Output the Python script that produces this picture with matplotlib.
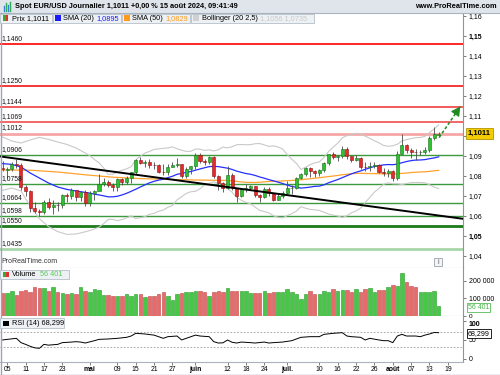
import numpy as np
import pandas as pd
import matplotlib
matplotlib.use('Agg')
import matplotlib.pyplot as plt
import matplotlib.transforms as mtrans
from matplotlib.patches import Rectangle
from matplotlib.lines import Line2D

plt.rcParams['font.family'] = ['Liberation Sans', 'DejaVu Sans']

# EUR/USD daily candles, 4 Apr 2024 -> 15 Aug 2024
opens = [1.0840, 1.0830, 1.0836, 1.0861, 1.0856, 1.0743, 1.0727, 1.0642, 1.0625, 1.0620,
         1.0672, 1.0643, 1.0656, 1.0655, 1.0703, 1.0698, 1.0728, 1.0693, 1.0719, 1.0665,
         1.0713, 1.0727, 1.0761, 1.0771, 1.0753, 1.0747, 1.0783, 1.0771, 1.0790, 1.0819,
         1.0882, 1.0866, 1.0870, 1.0857, 1.0855, 1.0822, 1.0819, 1.0847, 1.0857, 1.0858,
         1.0800, 1.0833, 1.0848, 1.0903, 1.0875, 1.0870, 1.0893, 1.0801, 1.0763, 1.0740,
         1.0806, 1.0738, 1.0702, 1.0734, 1.0739, 1.0748, 1.0703, 1.0693, 1.0733, 1.0715,
         1.0682, 1.0701, 1.0713, 1.0740, 1.0741, 1.0790, 1.0811, 1.0840, 1.0823, 1.0813,
         1.0828, 1.0866, 1.0908, 1.0894, 1.0902, 1.0937, 1.0898, 1.0882, 1.0891, 1.0846,
         1.0843, 1.0849, 1.0855, 1.0820, 1.0816, 1.0825, 1.0791, 1.0910, 1.0954, 1.0931,
         1.0922, 1.0918, 1.0918, 1.0932, 1.0992, 1.1006]
highs = [1.0876, 1.0843, 1.0868, 1.0885, 1.0866, 1.0756, 1.0730, 1.0669, 1.0637, 1.0680,
         1.0690, 1.0678, 1.0669, 1.0710, 1.0716, 1.0739, 1.0730, 1.0726, 1.0730, 1.0725,
         1.0731, 1.0812, 1.0790, 1.0779, 1.0763, 1.0790, 1.0791, 1.0801, 1.0822, 1.0887,
         1.0895, 1.0880, 1.0886, 1.0868, 1.0862, 1.0859, 1.0858, 1.0871, 1.0889, 1.0861,
         1.0845, 1.0852, 1.0916, 1.0915, 1.0884, 1.0902, 1.0900, 1.0805, 1.0768, 1.0852,
         1.0814, 1.0741, 1.0742, 1.0762, 1.0757, 1.0752, 1.0711, 1.0743, 1.0744, 1.0716,
         1.0717, 1.0725, 1.0776, 1.0755, 1.0797, 1.0816, 1.0845, 1.0845, 1.0830, 1.0833,
         1.0872, 1.0911, 1.0922, 1.0906, 1.0948, 1.0944, 1.0900, 1.0905, 1.0895, 1.0869,
         1.0868, 1.0871, 1.0859, 1.0838, 1.0835, 1.0831, 1.0925, 1.1009, 1.0961, 1.0940,
         1.0935, 1.0930, 1.0945, 1.0999, 1.1047, 1.1020]
lows = [1.0826, 1.0792, 1.0826, 1.0838, 1.0728, 1.0698, 1.0622, 1.0615, 1.0601, 1.0612,
        1.0636, 1.0611, 1.0623, 1.0640, 1.0672, 1.0683, 1.0677, 1.0675, 1.0650, 1.0649,
        1.0680, 1.0723, 1.0751, 1.0747, 1.0725, 1.0724, 1.0756, 1.0762, 1.0766, 1.0810,
        1.0858, 1.0845, 1.0840, 1.0835, 1.0817, 1.0805, 1.0807, 1.0846, 1.0846, 1.0788,
        1.0790, 1.0811, 1.0835, 1.0867, 1.0856, 1.0859, 1.0790, 1.0732, 1.0719, 1.0737,
        1.0730, 1.0668, 1.0697, 1.0722, 1.0728, 1.0696, 1.0671, 1.0690, 1.0700, 1.0676,
        1.0679, 1.0690, 1.0710, 1.0709, 1.0735, 1.0783, 1.0800, 1.0793, 1.0797, 1.0800,
        1.0819, 1.0856, 1.0883, 1.0873, 1.0891, 1.0885, 1.0871, 1.0873, 1.0836, 1.0825,
        1.0825, 1.0838, 1.0813, 1.0802, 1.0796, 1.0777, 1.0781, 1.0908, 1.0915, 1.0890,
        1.0882, 1.0904, 1.0908, 1.0921, 1.0982, 1.1005]
closes = [1.0837, 1.0836, 1.0861, 1.0856, 1.0743, 1.0727, 1.0642, 1.0625, 1.0620, 1.0672,
          1.0643, 1.0656, 1.0655, 1.0703, 1.0698, 1.0728, 1.0693, 1.0719, 1.0665, 1.0713,
          1.0727, 1.0761, 1.0771, 1.0753, 1.0747, 1.0783, 1.0771, 1.0790, 1.0819, 1.0882,
          1.0866, 1.0870, 1.0857, 1.0855, 1.0822, 1.0819, 1.0847, 1.0857, 1.0858, 1.0800,
          1.0833, 1.0848, 1.0903, 1.0875, 1.0870, 1.0893, 1.0801, 1.0763, 1.0740, 1.0806,
          1.0738, 1.0702, 1.0734, 1.0739, 1.0748, 1.0703, 1.0693, 1.0733, 1.0715, 1.0682,
          1.0701, 1.0713, 1.0740, 1.0741, 1.0790, 1.0811, 1.0840, 1.0823, 1.0813, 1.0828,
          1.0866, 1.0908, 1.0894, 1.0902, 1.0937, 1.0898, 1.0882, 1.0891, 1.0846, 1.0843,
          1.0849, 1.0855, 1.0820, 1.0816, 1.0825, 1.0791, 1.0910, 1.0954, 1.0931, 1.0922,
          1.0918, 1.0918, 1.0932, 1.0992, 1.1012, 1.1011]
volumes = [128000, 128000, 142000, 119000, 143000, 147000, 134000, 162000, 157000, 157000,
           142000, 162000, 134000, 128000, 125000, 128000, 125000, 162000, 143000, 134000,
           153000, 145000, 119000, 119000, 115000, 115000, 115000, 123000, 115000, 126000,
           126000, 106000, 115000, 115000, 123000, 134000, 115000, 88000, 123000, 128000,
           134000, 134000, 142000, 142000, 134000, 115000, 134000, 142000, 134000, 157000,
           142000, 142000, 142000, 142000, 128000, 128000, 128000, 142000, 128000, 134000,
           134000, 134000, 151000, 134000, 123000, 96000, 123000, 143000, 125000, 125000,
           143000, 134000, 151000, 142000, 145000, 145000, 138000, 151000, 134000, 151000,
           160000, 134000, 145000, 145000, 162000, 174000, 172000, 242000, 191000, 168000,
           162000, 134000, 134000, 134000, 142000, 56401]

# RSI(14) read at these candles
rsi_idx = [0, 1, 3, 4, 5, 6, 7, 8, 9, 10, 12, 13, 15, 16, 17, 18, 20, 21, 23, 25,
           27, 28, 29, 31, 33, 35, 36, 38, 39, 40, 42, 43, 45, 46, 47, 48, 49, 50, 51, 52,
           54, 55, 57, 58, 59, 61, 63, 64, 65, 67, 69, 70, 72, 74, 75, 76, 78, 79, 80, 82,
           83, 84, 85, 86, 87, 88, 90, 91, 92, 93, 94, 95]
rsi_val = [49.5, 51, 53.7, 42.5, 38, 33, 29, 27.7, 38, 36, 38, 42.5, 44, 45, 44, 41.5, 47.6, 51, 52, 53.7,
           56.3, 59.7, 66.7, 65, 62, 53.7, 58, 59.7, 49.4, 53.7, 62, 59.7, 58, 45, 41.5, 42, 49.4, 43.4, 41.5, 44,
           42.5, 41.5, 44, 41.5, 42.5, 44, 47.6, 52, 56.3, 58, 58, 64, 66.7, 68.4, 59.7, 58, 56.3, 49.4, 53.7, 49.4,
           47.6, 47.6, 42.5, 59.7, 64, 59.7, 59.7, 58, 62, 65, 68.8, 68.299]

# indicator values at the left edge (before a full window of candles is shown)
early20_idx = [0, 2, 4, 6, 8, 10, 12, 14, 16, 18]
sma20_early = [1.0862, 1.0858, 1.0845, 1.0815, 1.0790, 1.0765, 1.0745, 1.0733, 1.0725, 1.0718]
bb_up_early = [1.0995, 1.0975, 1.0965, 1.0980, 1.0993, 1.0983, 1.0970, 1.0958, 1.0940, 1.0915]
bb_low_early = [1.0728, 1.0740, 1.0725, 1.0650, 1.0587, 1.0547, 1.0522, 1.0508, 1.0510, 1.0521]
early50_idx = [0, 6, 12, 18, 24, 30, 36, 42, 48]
sma50_early = [1.0830, 1.0829, 1.0820, 1.0806, 1.0794, 1.0787, 1.0783, 1.0780, 1.0778]

res_levels = [1.1460, 1.1250, 1.1144, 1.1069, 1.1012]
res_colors = ['#ff1414', '#f42828', '#f24c4c', '#f25a5a', '#f7a6a6']
sup_levels = [1.0906, 1.0758, 1.0664, 1.0598, 1.0550, 1.0435]
sup_colors = ['#3c9a3c', '#3c9a3c', '#3c9a3c', '#3c9a3c', '#1c7a1c', '#a9d6a9']
sup_widths = [1.0, 1.0, 1.0, 1.0, 2.0, 2.0]

trend_idx = [-0.6, 100.3]
trend_val = [1.0898, 1.0586]
arrow_idx = [95.1, 99.7]
arrow_val = [1.0992, 1.1147]

tick_dates = ['2024-04-05', '2024-04-11', '2024-04-17', '2024-04-23', '2024-05-01',
              '2024-05-09', '2024-05-15', '2024-05-21', '2024-05-27', '2024-06-03',
              '2024-06-12', '2024-06-18', '2024-06-24', '2024-07-01', '2024-07-10',
              '2024-07-16', '2024-07-22', '2024-07-26', '2024-08-01', '2024-08-07',
              '2024-08-13', '2024-08-19']
tick_names = ['05', '11', '17', '23', 'mai', '09', '15', '21', '27', 'juin', '12', '18',
              '24', 'juil.', '10', '16', '22', '26', 'août', '07', '13', '19']
month_names = ['mai', 'juin', 'juil.', 'août']

o = np.array(opens); h = np.array(highs); l = np.array(lows); c = np.array(closes)
x = np.arange(len(c))
up = c >= o

close_s = pd.Series(closes)
sma20 = close_s.rolling(20).mean()
sd20 = close_s.rolling(20).std(ddof=0)
sma50 = close_s.rolling(50).mean()

def fr(v):
    return f"{v:.4f}".replace('.', ',')

W, H = 500.0, 375.0
fig = plt.figure(figsize=(5, 3.75), dpi=100)

def rect(x0, y0, x1, y1):
    return [x0 / W, 1 - y1 / H, (x1 - x0) / W, (y1 - y0) / H]

def ftext(xp, yp, s, **kw):
    kw.setdefault('va', 'center')
    kw.setdefault('fontsize', 5.3)
    return fig.text(xp / W, 1 - yp / H, s, zorder=12, **kw)

def fbox(x0, y0, x1, y1, fc='#eef1f4', ec='#b5c0ca', lw=0.6):
    fig.add_artist(Rectangle((x0 / W, 1 - y1 / H), (x1 - x0) / W, (y1 - y0) / H,
                             transform=fig.transFigure, facecolor=fc, edgecolor=ec,
                             lw=lw, zorder=11))

ax_p = fig.add_axes(rect(0, 13, 463, 268))
ax_v = fig.add_axes(rect(0, 268, 463, 316), sharex=ax_p)
ax_r = fig.add_axes(rect(0, 316, 463, 362), sharex=ax_p)

for ax in (ax_p, ax_v, ax_r):
    ax.spines['top'].set_visible(False)
    ax.spines['left'].set_visible(False)
    ax.spines['right'].set_color('#8a95a0')
    ax.spines['bottom'].set_color('#aab3bc')
    ax.spines['right'].set_linewidth(0.8)
    ax.spines['bottom'].set_linewidth(0.8)
    ax.yaxis.tick_right()
    ax.tick_params(axis='y', direction='out', length=2.5, width=0.6, colors='#666',
                   labelcolor='black', labelsize=5, pad=1.5)
    ax.tick_params(axis='x', bottom=False, labelbottom=False)

# ---- price panel ----
ax_p.set_xlim(-0.57, 100.3)
ax_p.set_ylim(1.034, 1.1615)
for lev, col in zip(res_levels, res_colors):
    ax_p.axhline(lev, color=col, lw=1.3 if lev != 1.1012 else 2.0, zorder=1)
for lev, col, lw in zip(sup_levels, sup_colors, sup_widths):
    ax_p.axhline(lev, color=col, lw=lw, zorder=1)
lbl_tr = mtrans.blended_transform_factory(ax_p.transAxes, ax_p.transData)
for lev in res_levels + sup_levels:
    ax_p.text(0.004, lev + 0.0011, fr(lev), transform=lbl_tr, fontsize=4.9,
              va='bottom', ha='left', color='#111', zorder=8)

ax_p.plot(early20_idx + list(x[19:]), bb_up_early + list((sma20 + 2.5 * sd20)[19:]),
          color='#c9c9c9', lw=0.8, zorder=2)
ax_p.plot(early20_idx + list(x[19:]), bb_low_early + list((sma20 - 2.5 * sd20)[19:]),
          color='#c9c9c9', lw=0.8, zorder=2)
ax_p.plot(early50_idx + list(x[49:]), sma50_early + list(sma50[49:]),
          color='#ffa22e', lw=0.9, zorder=2)
ax_p.plot(early20_idx + list(x[19:]), sma20_early + list(sma20[19:]),
          color='#2430ff', lw=0.9, zorder=2)

ax_p.vlines(x, l, h, color='#4a4a4a', lw=0.6, zorder=3)
body_lo = np.minimum(o, c)
body_h = np.maximum(np.abs(c - o), 0.00008)
ax_p.bar(x, body_h, bottom=body_lo, width=0.66,
         color=np.where(up, '#2fc02f', '#e42a2a'),
         edgecolor=np.where(up, '#17701a', '#8c1212'), linewidth=0.4, zorder=4)

ax_p.plot(trend_idx, trend_val, color='black', lw=1.4, zorder=5)
ax_p.plot(arrow_idx, arrow_val, color='#1f8c1f', lw=1.1, ls=(0, (2, 1.4)), zorder=6)
ax_p.annotate('', xy=(arrow_idx[1], arrow_val[1]),
              xytext=(arrow_idx[1] - 0.6, arrow_val[1] - 0.0020),
              arrowprops=dict(arrowstyle='-|>,head_length=0.55,head_width=0.3',
                              color='#1f8c1f', lw=0.8, shrinkA=0, shrinkB=0,
                              mutation_scale=10), zorder=6)

# the 1,10 tick label sits under the last-price box, so it is left blank
price_ticks = [1.04, 1.05, 1.06, 1.07, 1.08, 1.09, 1.10, 1.11, 1.12, 1.13, 1.14, 1.15, 1.16]
price_labels = ['' if t == 1.10 else f"{t:.2f}".replace('.', ',') for t in price_ticks]
ax_p.set_yticks(price_ticks, labels=price_labels)
for t in ax_p.get_yticklabels():
    if t.get_text() in ('1,05', '1,15'):
        t.set_fontweight('bold')
ax_p.annotate(fr(closes[-1]), xy=(1, closes[-1]), xycoords=('axes fraction', 'data'),
              xytext=(3.5, 0), textcoords='offset points', va='center', ha='left',
              fontsize=5.6, fontweight='bold', zorder=12, annotation_clip=False,
              bbox=dict(boxstyle='square,pad=0.25', facecolor='#f3cd00',
                        edgecolor='#b49400', lw=0.6))
ax_p.text(0.003, 0.025, 'ProRealTime.com', transform=ax_p.transAxes, fontsize=5,
          color='#333', va='center', ha='left')

# ---- volume panel ----
ax_v.set_ylim(0, 271000)
ax_v.bar(x, volumes, width=0.76, color=np.where(up, '#46c846', '#e66b6b'),
         edgecolor=np.where(up, '#2a9a2a', '#c04545'), linewidth=0.4, zorder=3)
ax_v.set_yticks([0, 100000, 200000], labels=['0', '100 000', '200 000'])
ax_v.get_yticklabels()[0].set_fontsize(4.6)
ax_v.annotate(f"{volumes[-1]:,}".replace(',', ' '), xy=(1, volumes[-1]),
              xycoords=('axes fraction', 'data'), xytext=(3.5, -0.9),
              textcoords='offset points', va='center', ha='left', fontsize=5,
              color='#44b844', zorder=12, annotation_clip=False,
              bbox=dict(boxstyle='square,pad=0.15', facecolor='white',
                        edgecolor='#55bb55', lw=0.6))

# ---- RSI panel ----
ax_r.set_ylim(-7.8, 111.7)
ax_r.axhline(70, color='#9a9a9a', lw=0.6, ls=(0, (2, 2)), zorder=1)
ax_r.axhline(30, color='#9a9a9a', lw=0.6, ls=(0, (2, 2)), zorder=1)
ax_r.plot(rsi_idx, rsi_val, color='black', lw=0.7, zorder=3)
ax_r.set_yticks([0, 50, 100], labels=['0', '50', '100'])
for t in ax_r.get_yticklabels():
    if t.get_text() == '100':
        t.set_fontweight('bold')
        t.set_va('top')
ax_r.annotate(f"{rsi_val[-1]:.3f}".replace('.', ','), xy=(1, rsi_val[-1]),
              xycoords=('axes fraction', 'data'), xytext=(3.5, -0.6),
              textcoords='offset points', va='center', ha='left', fontsize=5.1,
              zorder=12, annotation_clip=False,
              bbox=dict(boxstyle='square,pad=0.18', facecolor='white',
                        edgecolor='black', lw=0.6))

days = pd.bdate_range('2024-04-04', '2024-08-30')
tick_pos = days.get_indexer(pd.to_datetime(tick_dates))
ax_r.set_xticks(tick_pos, labels=tick_names)
ax_r.tick_params(axis='x', bottom=True, labelbottom=True, length=2, width=0.6,
                 colors='#666', labelcolor='black', labelsize=4.9, pad=1.2)
for t in ax_r.get_xticklabels():
    if t.get_text() in month_names:
        t.set_fontweight('bold')

# ---- header and legends ----
fig.add_artist(Rectangle((0, 1 - 13 / H), 1, 13 / H, transform=fig.transFigure,
                         facecolor='#dfe5eb', edgecolor='none', zorder=10))
fig.add_artist(Line2D([0, 1], [1 - 13 / H] * 2, color='#a9b4bf', lw=0.8, zorder=10))
for xi, hh, col in [(4, 5, '#3b7fd8'), (6, 8, '#2fae4f'), (8, 6, '#3b7fd8'), (10, 9, '#2fae4f')]:
    fig.add_artist(Line2D([xi / W] * 2, [1 - 11 / H, 1 - (11 - hh) / H], color=col,
                          lw=1.0, zorder=12))
ftext(15, 6.5, 'Spot EUR/USD Journalier 1,1011 +0,00 % 15 août 2024, 09:41:49',
      fontweight='bold')
ftext(497, 6.5, 'www.ProRealTime.com', fontweight='bold', ha='right')

fbox(0, 13.5, 52, 23)
fbox(53, 13.5, 121, 23)
fbox(122, 13.5, 190, 23)
fbox(191, 13.5, 314, 23)
fbox(3, 15.5, 5.5, 21, fc='#2fae2f', ec='none')
fbox(5.5, 15.5, 8, 21, fc='#e03030', ec='none')
fbox(55, 15.5, 60.5, 21, fc='#1a1aff', ec='none')
fbox(124, 15.5, 129.5, 21, fc='#ff9a1a', ec='none')
fbox(193, 15.5, 198.5, 21, fc='#d0d0d0', ec='none')
ftext(11.5, 18.3, 'Prix ' + fr(closes[-1]))
ftext(63, 18.3, 'SMA (20)')
ftext(96.5, 18.3, '1,0895', color='#1a1aff')
ftext(132.5, 18.3, 'SMA (50)')
ftext(165.5, 18.3, '1,0829', color='#ff9a1a')
ftext(202, 18.3, 'Bollinger (20 2,5)')
ftext(260, 18.3, '1,1056 1,0735', color='#c8c8c8')

fbox(0, 269.5, 69, 278.5)
fbox(3, 271.5, 5.8, 276.8, fc='#2fae2f', ec='none')
fbox(5.8, 271.5, 8.6, 276.8, fc='#e03030', ec='none')
ftext(12, 274.2, 'Volume')
ftext(40, 274.2, '56 401', color='#55cc55')

fbox(0, 318, 64, 328)
fbox(3, 320.5, 8.6, 325.8, fc='black', ec='none')
ftext(12, 323.2, 'RSI (14) 68,299')

fbox(434, 258, 442, 266, fc='#f4f4f4', ec='#9aa4ae')
ftext(438, 262, 'i', ha='center', fontsize=4.8, color='#555')

fig.add_artist(Line2D([0.5 / W] * 2, [0, 1 - 13 / H], color='#9aa8b6', lw=1.0, zorder=10))
fig.add_artist(Line2D([0, 1], [0.5 / H] * 2, color='#9aa8b6', lw=1.0, zorder=10))

fig.savefig('out.png', dpi=100)
